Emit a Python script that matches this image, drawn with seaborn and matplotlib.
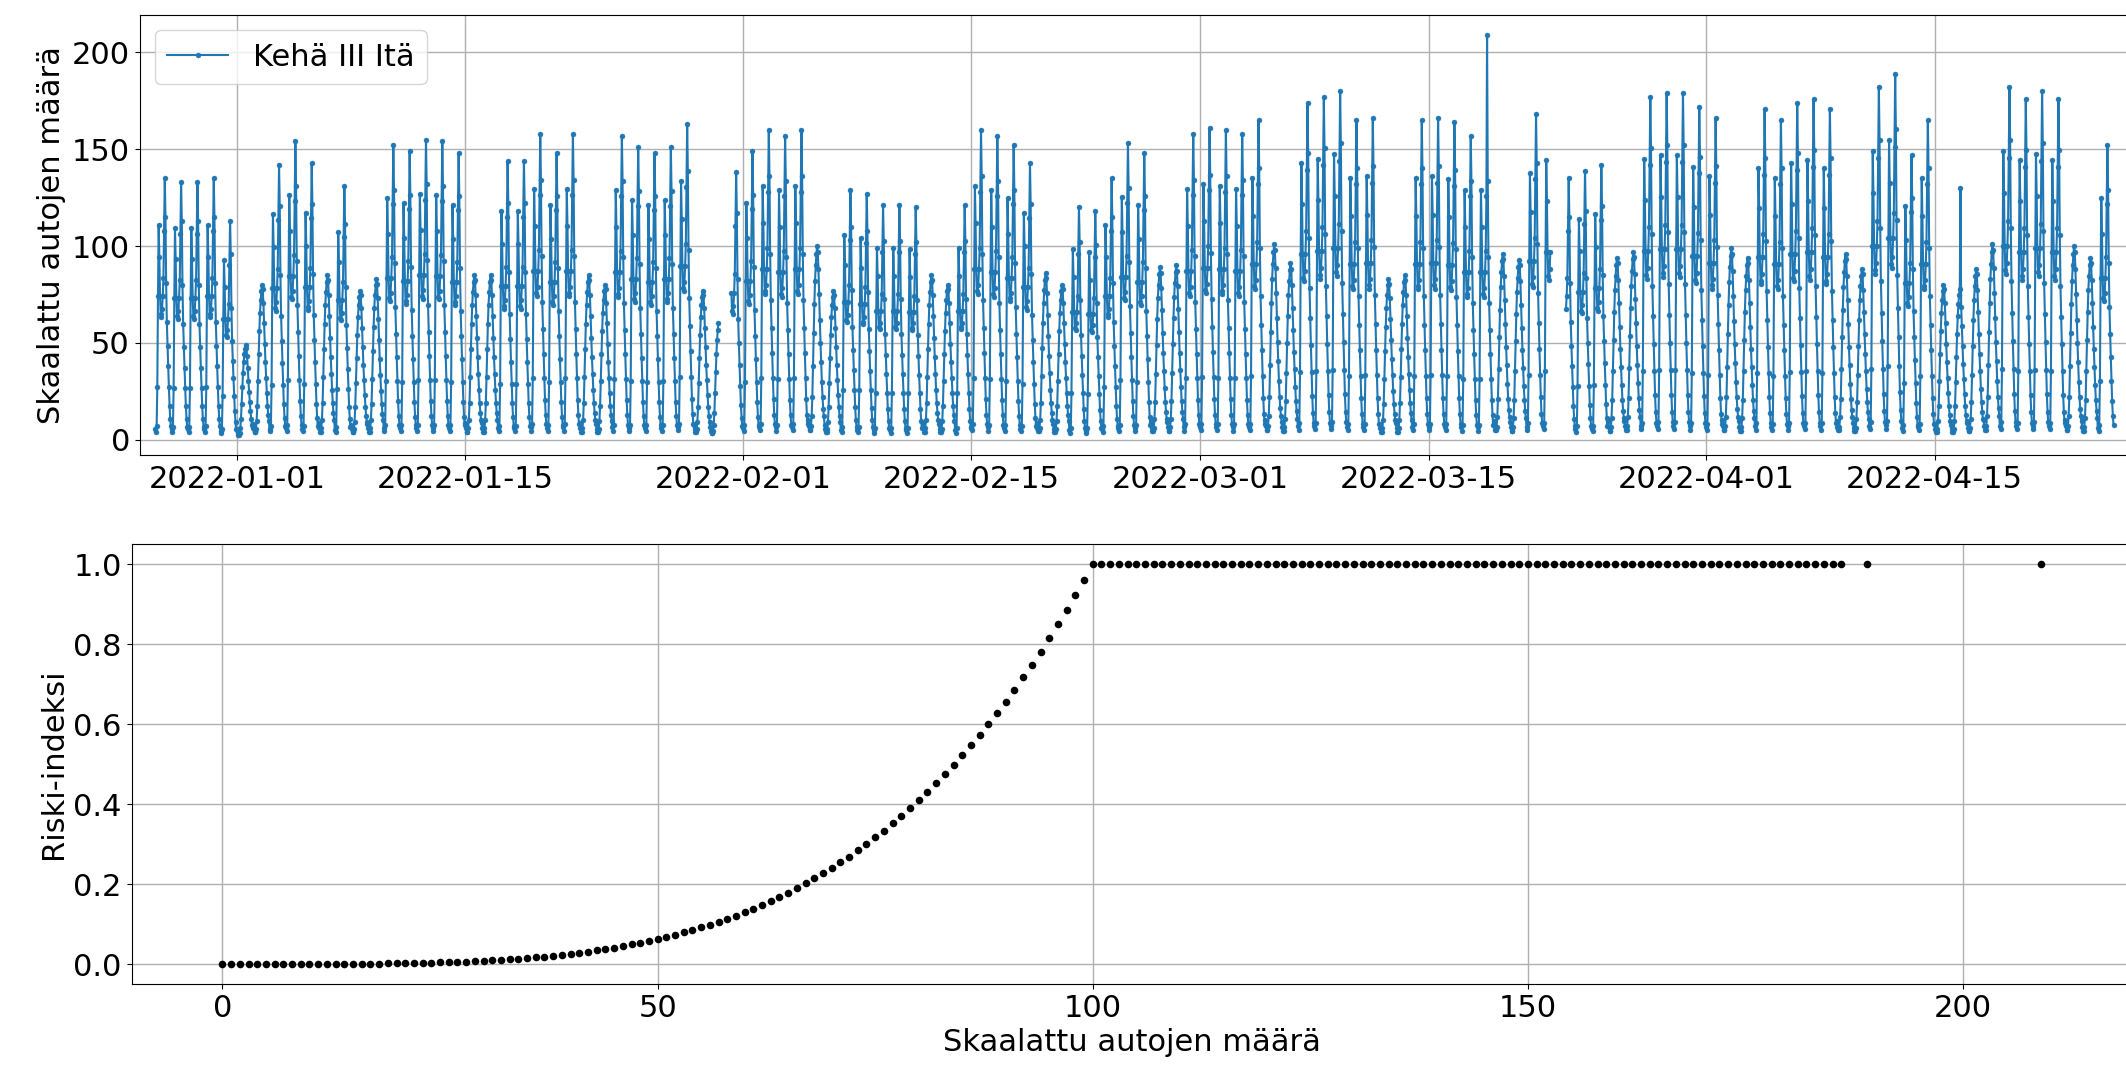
import numpy as np
import pandas as pd
import matplotlib
matplotlib.use("Agg")
import matplotlib.pyplot as plt
import matplotlib.dates as mdates
import seaborn as sns

# ---------------- data ----------------
start_date = "2021-12-27"
n_days = 120

# daily maximum of the scaled car count (Mon..Sun rows, first row starts 2021-12-27)
day_peaks = [
    135, 133, 133, 135, 113, 49, 80,
    142, 154, 143, 85, 131, 77, 83,
    152, 149, 155, 154, 148, 85, 85,
    144, 144, 158, 148, 158, 85, 80,
    157, 151, 148, 151, 163, 77, 63,
    138, 149, 160, 157, 160, 100, 77,
    129, 127, 121, 121, 120, 85, 80,
    121, 160, 157, 152, 143, 86, 80,
    120, 118, 135, 153, 148, 89, 90,
    158, 161, 160, 158, 165, 101, 91,
    174, 177, 180, 165, 166, 83, 85,
    165, 166, 164, 157, 157, 96, 93,
    168, 176, 135, 139, 142, 94, 97,
    177, 179, 179, 172, 166, 99, 94,
    171, 165, 174, 176, 171, 96, 88,
    182, 189, 147, 165, 80, 78, 88,
    101, 182, 176, 180, 176, 100, 94,
    152,
]
# W = working-day shape, E = weekend / holiday shape
day_types = (
    "WWWWWEE" "WWWEWEE" "WWWWWEE" "WWWWWEE" "WWWWWEE" "WWWWWEE"
    "WWWWWEE" "WWWWWEE" "WWWWWEE" "WWWWWEE" "WWWWWEE" "WWWWWEE"
    "WWWWWEE" "WWWWWEE" "WWWWWEE" "WWWWEEE" "EWWWWEE" "W"
)
# typical hourly shape (fraction of the day's maximum), hours 0..23
weekday_shape = [0.04, 0.03, 0.05, 0.20, 0.55, 0.82, 0.70, 0.55, 0.48, 0.47, 0.50, 0.55,
                 0.62, 0.80, 1.00, 0.85, 0.60, 0.45, 0.36, 0.28, 0.20, 0.13, 0.08, 0.05]
weekend_shape = [0.10, 0.07, 0.05, 0.05, 0.07, 0.12, 0.22, 0.38, 0.55, 0.70, 0.82, 0.90,
                 0.96, 1.00, 0.97, 0.88, 0.75, 0.62, 0.50, 0.40, 0.30, 0.22, 0.16, 0.12]
# single-hour outliers
spike_times = ["2022-03-18 14:00", "2022-04-16 14:00"]
spike_values = [209, 130]
# missing data
gap_starts = ["2022-01-30 13:00", "2022-03-22 12:00"]
gap_ends = ["2022-01-31 06:00", "2022-03-23 09:00"]

series_label = "Kehä III Itä"

# risk index curve
risk_x = list(range(0, 187)) + [189, 209]
risk_y_low = [
    0.0000, 0.0000, 0.0000, 0.0000, 0.0000, 0.0000, 0.0000, 0.0000, 0.0000, 0.0001,
    0.0001, 0.0001, 0.0002, 0.0003, 0.0004, 0.0005, 0.0007, 0.0008, 0.0010, 0.0013,
    0.0016, 0.0019, 0.0023, 0.0028, 0.0033, 0.0039, 0.0046, 0.0053, 0.0061, 0.0071,
    0.0081, 0.0092, 0.0105, 0.0119, 0.0134, 0.0150, 0.0168, 0.0187, 0.0209, 0.0231,
    0.0256, 0.0283, 0.0311, 0.0342, 0.0375, 0.0410, 0.0448, 0.0488, 0.0531, 0.0576,
    0.0625, 0.0677, 0.0731, 0.0789, 0.0850, 0.0915, 0.0983, 0.1056, 0.1132, 0.1212,
    0.1296, 0.1385, 0.1478, 0.1575, 0.1678, 0.1785, 0.1897, 0.2015, 0.2138, 0.2267,
    0.2401, 0.2541, 0.2687, 0.2840, 0.2999, 0.3164, 0.3336, 0.3515, 0.3702, 0.3895,
    0.4096, 0.4305, 0.4521, 0.4746, 0.4979, 0.5220, 0.5470, 0.5729, 0.5997, 0.6274,
    0.6561, 0.6857, 0.7164, 0.7481, 0.7807, 0.8145, 0.8493, 0.8853, 0.9224, 0.9606,
]
risk_y_high = 1.0  # every value from 100 upwards

# ---------------- build hourly table ----------------
times = pd.date_range(start_date, periods=n_days * 24, freq="h")
vals = []
for d in range(n_days):
    shape = weekday_shape if day_types[d] == "W" else weekend_shape
    vals.extend([s * day_peaks[d] for s in shape])
df = pd.DataFrame({"time": times, "count": np.round(vals, 1)})
for t, v in zip(spike_times, spike_values):
    df.loc[df["time"] == pd.Timestamp(t), "count"] = v
for a, b in zip(gap_starts, gap_ends):
    df.loc[(df["time"] >= pd.Timestamp(a)) & (df["time"] <= pd.Timestamp(b)), "count"] = np.nan

risk_df = pd.DataFrame({
    "x": risk_x,
    "y": risk_y_low + [risk_y_high] * (len(risk_x) - len(risk_y_low)),
})

# ---------------- plot ----------------
plt.rcParams["font.family"] = ["DejaVu Sans"]
plt.rcParams["font.size"] = 22
W, H = 2126, 1066
fig = plt.figure(figsize=(W / 100, H / 100), dpi=100)
ax1 = fig.add_axes([139.6 / W, 1 - 455 / H, 1.0015 - 139.6 / W, (455 - 15) / H])
ax2 = fig.add_axes([131.5 / W, 1 - 984 / H, 1.003 - 131.5 / W, (984 - 544) / H])

blue = "#1f77b4"
# split into continuous segments so gaps stay open
valid = df["count"].notna()
seg_id = (~valid).cumsum()
first = True
for _, seg in df[valid].groupby(seg_id[valid]):
    sns.lineplot(data=seg, x="time", y="count", ax=ax1, color=blue, estimator=None,
                 linewidth=1.5, marker="o", markersize=3.6, markeredgecolor=blue,
                 markeredgewidth=0.3, label=series_label if first else None)
    first = False

ax1.margins(x=0.008)
ax1.xaxis.set_major_locator(mdates.DayLocator(bymonthday=[1, 15]))
ax1.xaxis.set_major_formatter(mdates.DateFormatter("%Y-%m-%d"))
ax1.set_yticks([0, 50, 100, 150, 200])
ax1.set_xlabel("")
ax1.set_ylabel("Skaalattu autojen määrä")
ax1.grid(True, color="#b0b0b0", linewidth=1.0)
ax1.legend(loc="upper left", fontsize=22)

sns.scatterplot(data=risk_df, x="x", y="y", ax=ax2, color="black", s=30, linewidth=0)
ax2.set_xticks([0, 50, 100, 150, 200])
ax2.set_yticks([0.0, 0.2, 0.4, 0.6, 0.8, 1.0])
ax2.set_xlabel("Skaalattu autojen määrä")
ax2.set_ylabel("Riski-indeksi")
ax2.grid(True, color="#b0b0b0", linewidth=1.0)

for ax in (ax1, ax2):
    ax.set_axisbelow(True)

fig.savefig("out.png", dpi=100)
